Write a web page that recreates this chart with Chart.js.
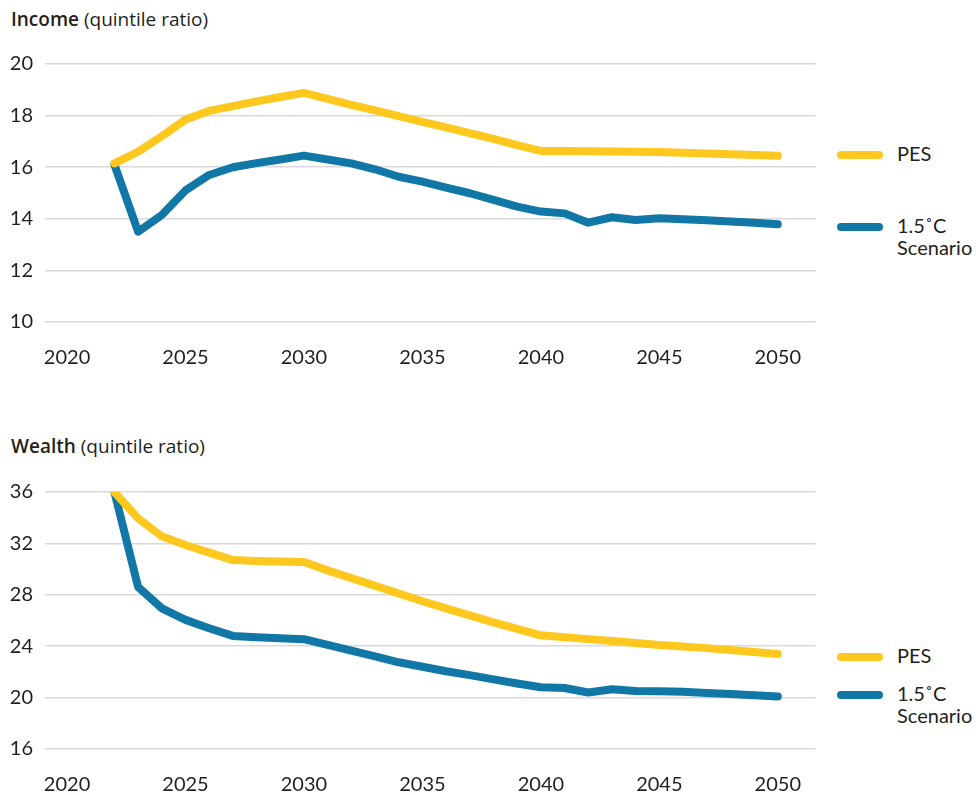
<!DOCTYPE html>
<html>
<head>
<meta charset="utf-8">
<script src="https://cdn.jsdelivr.net/npm/chart.js@4"></script>
<style>
  body { margin: 0; background: #fff; font-family: Lato, sans-serif; color: #231f20; }
  .wrap { position: relative; width: 976px; height: 795px; overflow: hidden; }
  .box { position: absolute; left: 0; width: 817px; }
  .title { position: absolute; left: 11px; font-family: 'Open Sans', sans-serif; font-size: 19px; white-space: nowrap; }
  .title b { font-weight: 600; }
  .leg { position: absolute; left: 837px; font-size: 20px; line-height: 22px; }
  .leg .sw { position: absolute; left: 0; width: 46px; height: 8px; border-radius: 4px; }
  .leg .tx { position: absolute; left: 60px; white-space: nowrap; }
</style>
</head>
<body>
<div class="wrap">
  <div class="title" style="top:6px"><b>Income</b> (quintile ratio)</div>
  <div class="box" style="top:0;height:390px"><canvas id="incomeChart"></canvas></div>
  <div class="title" style="top:433px"><b>Wealth</b> (quintile ratio)</div>
  <div class="box" style="top:400px;height:395px"><canvas id="wealthChart"></canvas></div>

  <div class="leg" style="top:151px"><div class="sw" style="background:#FEC81E"></div><div class="tx" style="top:-9px">PES</div></div>
  <div class="leg" style="top:223px"><div class="sw" style="background:#1077A6"></div><div class="tx" style="top:-9px">1.5˚C<br>Scenario</div></div>
  <div class="leg" style="top:653px"><div class="sw" style="background:#FEC81E"></div><div class="tx" style="top:-9px">PES</div></div>
  <div class="leg" style="top:691px"><div class="sw" style="background:#1077A6"></div><div class="tx" style="top:-9px">1.5˚C<br>Scenario</div></div>
</div>
<script>
const years = [2022,2023,2024,2025,2026,2027,2028,2029,2030,2031,2032,2033,2034,2035,2036,2037,2038,2039,2040,2041,2042,2043,2044,2045,2046,2047,2048,2049,2050];
const yearTicks = [2020, 2025, 2030, 2035, 2040, 2045, 2050];

const incomePES = [16.15,16.6,17.2,17.85,18.18,18.37,18.55,18.72,18.88,18.65,18.42,18.2,17.98,17.76,17.54,17.32,17.1,16.86,16.63,16.63,16.62,16.61,16.6,16.59,16.56,16.53,16.5,16.47,16.44];
const income15 = [16.1,13.5,14.15,15.1,15.7,16.0,16.16,16.3,16.45,16.3,16.15,15.92,15.63,15.44,15.21,14.99,14.73,14.47,14.28,14.21,13.85,14.06,13.95,14.02,13.98,13.94,13.9,13.85,13.79];

const wealthPES = [36,33.95,32.55,31.88,31.28,30.7,30.63,30.6,30.55,29.9,29.3,28.7,28.1,27.5,26.95,26.4,25.85,25.35,24.85,24.7,24.55,24.4,24.25,24.1,23.97,23.85,23.7,23.55,23.4];
const wealth15 = [36,28.6,26.95,26.05,25.4,24.8,24.7,24.62,24.55,24.1,23.65,23.2,22.75,22.4,22.05,21.75,21.42,21.1,20.8,20.75,20.4,20.65,20.52,20.5,20.45,20.35,20.28,20.18,20.08];

const incomeTicks = [10, 12, 14, 16, 18, 20];
const wealthTicks = [16, 20, 24, 28, 32, 36];

const yellow = '#FEC81E', blue = '#1077A6';

function makeChart(id, pes, sc, yTicks, padTop, xHeight) {
  const ds = (vals, color) => ({
    data: years.map((y, i) => ({ x: y, y: vals[i] })),
    borderColor: color, borderWidth: 8, pointRadius: 0, fill: false,
    borderCapStyle: 'round', borderJoinStyle: 'round', tension: 0
  });
  return new Chart(document.getElementById(id), {
    type: 'line',
    data: { datasets: [ds(pes, yellow), ds(sc, blue)] },
    options: {
      responsive: true, maintainAspectRatio: false, animation: false,
      layout: { padding: { top: padTop, right: 0, left: 0, bottom: 0 } },
      plugins: { legend: { display: false }, tooltip: { enabled: false } },
      scales: {
        x: {
          type: 'linear', min: 2019.07, max: 2051.6,
          afterBuildTicks: s => { s.ticks = yearTicks.map(v => ({ value: v })); },
          afterFit: s => { s.height = xHeight; },
          grid: { display: false }, border: { display: false },
          ticks: { color: '#231f20', padding: 16, maxRotation: 0, font: { family: 'Lato', size: 20 }, callback: v => String(v) }
        },
        y: {
          min: yTicks[0], max: yTicks[yTicks.length - 1],
          afterBuildTicks: s => { s.ticks = yTicks.map(v => ({ value: v })); },
          afterFit: s => { s.width = 45; },
          grid: { color: '#d9d9d9', lineWidth: 1.5, drawTicks: false },
          border: { display: false },
          ticks: { color: '#231f20', padding: 12, font: { family: 'Lato', size: 20 } }
        }
      }
    }
  });
}

makeChart('incomeChart', incomePES, income15, incomeTicks, 64, 68);
makeChart('wealthChart', wealthPES, wealth15, wealthTicks, 92, 46);
</script>
</body>
</html>
